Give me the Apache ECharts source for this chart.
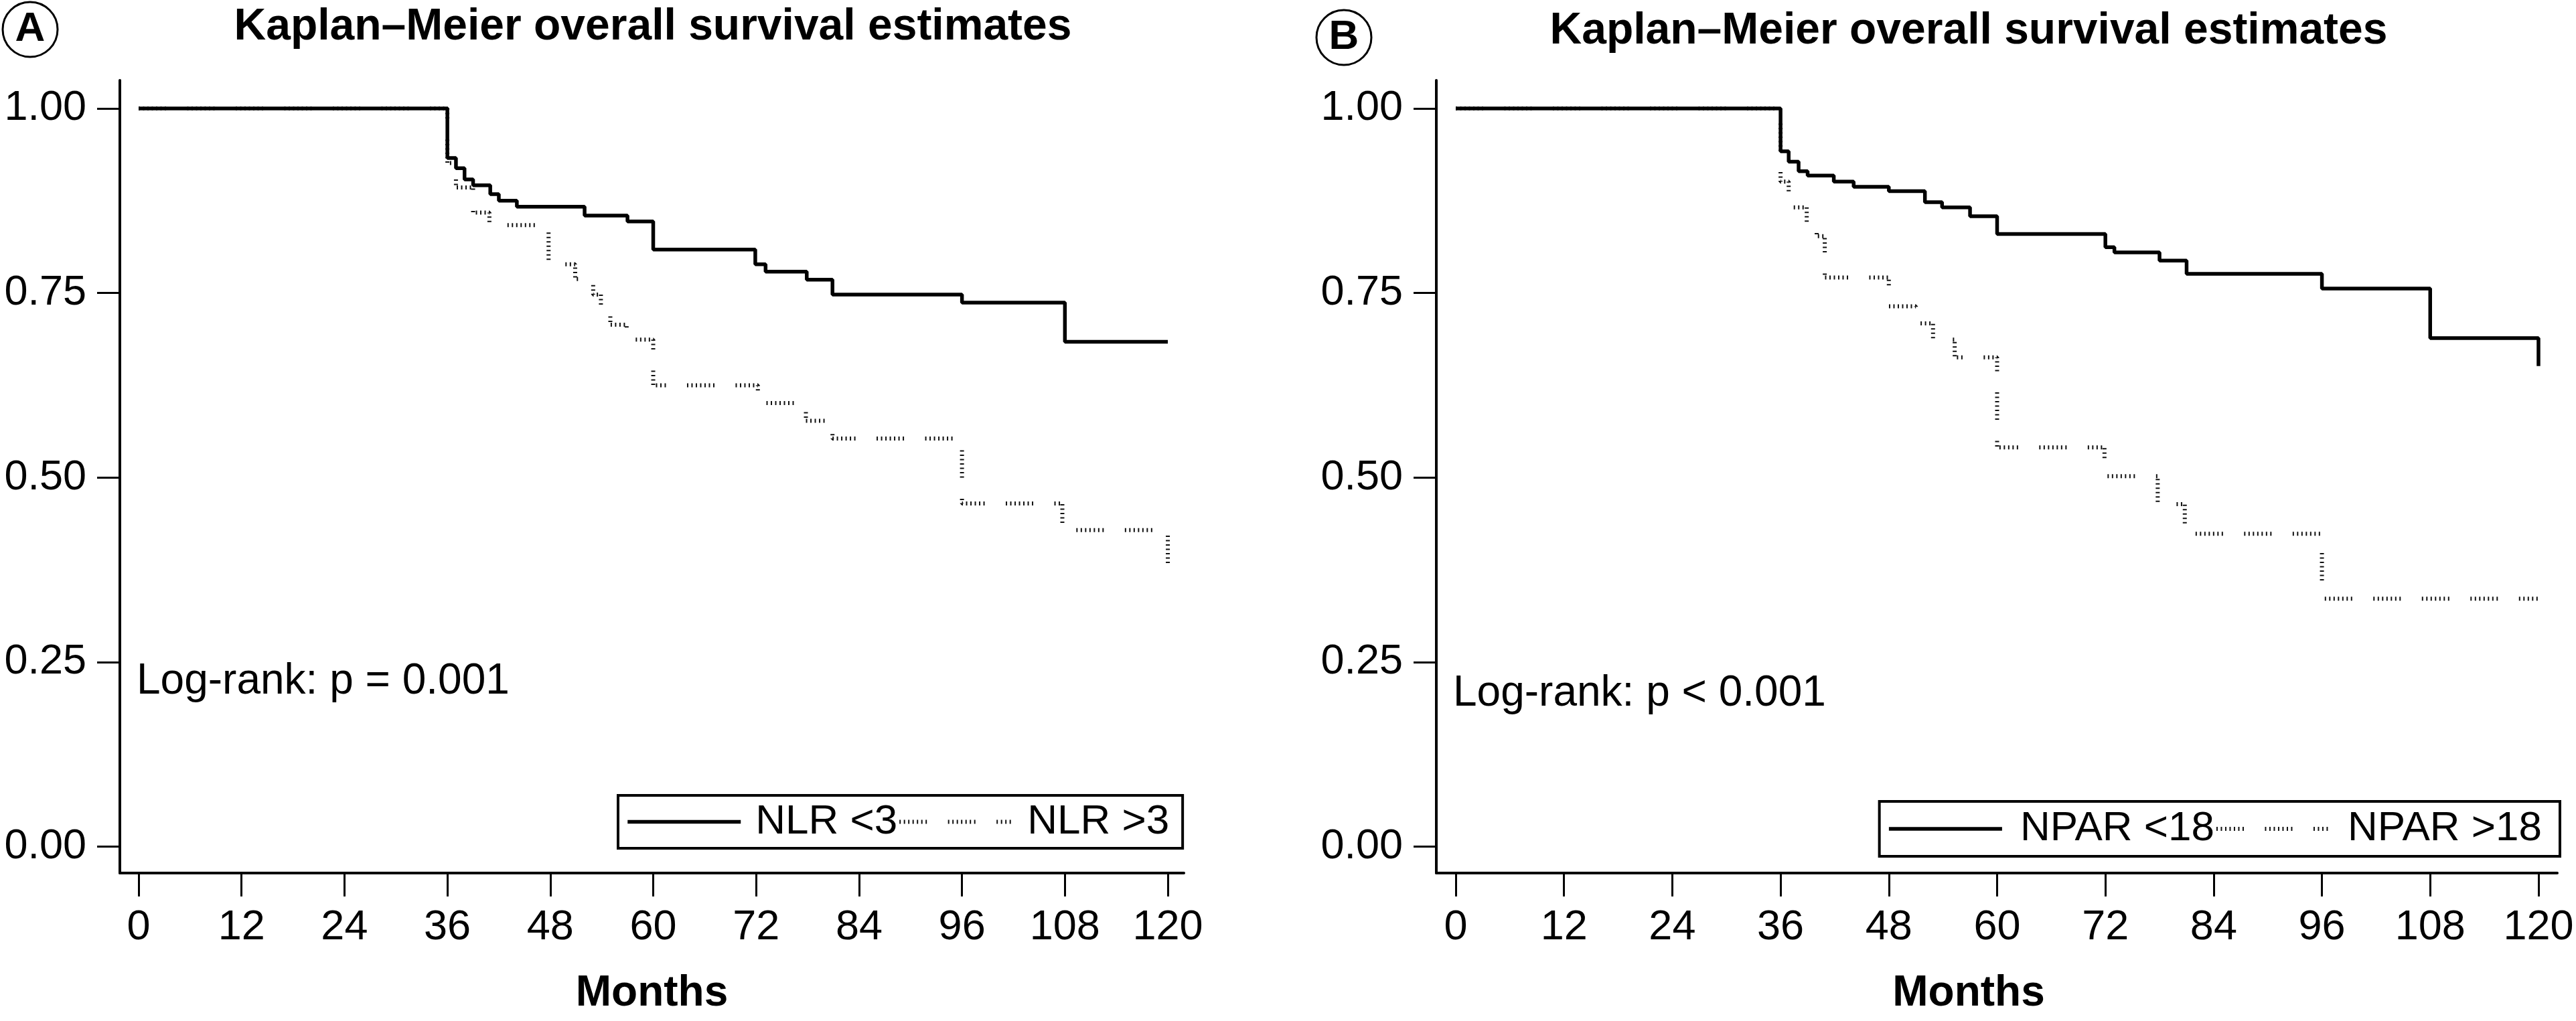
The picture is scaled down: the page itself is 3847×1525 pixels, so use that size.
<!DOCTYPE html>
<html>
<head>
<meta charset="utf-8">
<script src="https://cdn.jsdelivr.net/npm/echarts@6/dist/echarts.min.js"></script>
<style>
html,body{margin:0;padding:0;background:#fff;}
#c{width:3847px;height:1525px;}
</style>
</head>
<body>
<div id="c"></div>
<script>
// ---------- data ----------
const xTicks = [0, 12, 24, 36, 48, 60, 72, 84, 96, 108, 120];
const yTicks = [0, 0.25, 0.5, 0.75, 1];
const titleText = 'Kaplan–Meier overall survival estimates';
const xName = 'Months';
const panelLetters = ['A', 'B'];
const namesA = ['NLR <3', 'NLR >3'];
const namesB = ['NPAR <18', 'NPAR >18'];
const pTextA = 'Log-rank: p = 0.001';
const pTextB = 'Log-rank: p < 0.001';

// Panel A, NLR <3 (solid)
const monthsA_low = [0, 36, 37, 38, 39, 41, 42, 44.1, 52, 57, 60, 71.9, 73.1, 77.9, 80.9, 96, 108, 120];
const survA_low   = [1, 0.933, 0.919, 0.904, 0.896, 0.884, 0.875, 0.867, 0.855, 0.847, 0.809, 0.789, 0.779, 0.768, 0.748, 0.737, 0.684, 0.684];
// Panel A, NLR >3 (dotted)
const monthsA_high = [0, 36, 37, 39, 40.9, 47.8, 50.9, 53, 53.9, 55, 56.9, 57.8, 60, 72.2, 77.8, 80.9, 96, 107.7, 120];
const survA_high   = [1, 0.926, 0.893, 0.859, 0.842, 0.789, 0.769, 0.748, 0.729, 0.707, 0.699, 0.687, 0.625, 0.601, 0.577, 0.553, 0.465, 0.429, 0.38];
// Panel B, NPAR <18 (solid)
const monthsB_low = [0, 36, 36.9, 38, 39, 41.9, 44.1, 48, 52, 53.9, 57, 60, 72, 73, 78, 81, 96, 108, 120];
const survB_low   = [1, 0.942, 0.928, 0.915, 0.909, 0.901, 0.894, 0.888, 0.873, 0.866, 0.854, 0.830, 0.812, 0.805, 0.794, 0.776, 0.756, 0.689, 0.651];
// Panel B, NPAR >18 (dotted)
const monthsB_high = [0, 36, 36.9, 38.9, 40, 40.9, 48, 51, 52.9, 55.3, 60, 71.9, 77.8, 80.8, 96, 120];
const survB_high   = [1, 0.901, 0.866, 0.841, 0.827, 0.771, 0.732, 0.709, 0.687, 0.663, 0.541, 0.502, 0.464, 0.424, 0.336, 0.336];

// ---------- styling ----------
const FONT = "'Liberation Sans', Arial, Helvetica, sans-serif";
const DOT = [2, 4.5, 2, 4.5, 2, 4.5, 2, 4.5, 2, 4.5, 2, 4.5, 2, 31.5];
const pairs = (xs, ys) => xs.map((x, i) => [x, ys[i]]);

function xAxis(gi, min, max, namePad) {
  return {
    type: 'value', gridIndex: gi, min: min, max: max,
    name: xName, nameLocation: 'middle', nameGap: 148,
    nameTextStyle: {fontSize: 64, fontWeight: 'bold', color: '#000', fontFamily: FONT, padding: namePad},
    axisLine: {show: true, onZero: false, lineStyle: {color: '#000', width: 4}},
    axisTick: {show: true, length: 35, customValues: xTicks, lineStyle: {color: '#000', width: 3}},
    axisLabel: {show: true, customValues: xTicks, margin: 50, fontSize: 63, color: '#000', fontFamily: FONT},
    splitLine: {show: false}
  };
}
function yAxis(gi) {
  return {
    type: 'value', gridIndex: gi, min: -0.0356, max: 1.0381,
    axisLine: {show: true, onZero: false, lineStyle: {color: '#000', width: 4}},
    axisTick: {show: true, length: 34, customValues: yTicks, lineStyle: {color: '#000', width: 3}},
    axisLabel: {show: true, customValues: yTicks, margin: 50, fontSize: 63, color: '#000', fontFamily: FONT,
                formatter: v => v.toFixed(2)},
    splitLine: {show: false}
  };
}
function legend(names, pos, textPadLeft) {
  return Object.assign({
    data: names, orient: 'horizontal', selectedMode: false,
    itemWidth: 169, itemHeight: 20, itemGap: 0,
    borderColor: '#000', borderWidth: 4, backgroundColor: '#fff',
    itemStyle: {opacity: 0, borderWidth: 0},
    lineStyle: {width: 'inherit', type: 'inherit'},
    textStyle: {fontSize: 62, color: '#000', fontFamily: FONT, padding: [0, 0, 0, textPadLeft], lineHeight: 62}
  }, pos);
}
function solid(name, gi, xs, ys) {
  return {type: 'line', name: name, xAxisIndex: gi, yAxisIndex: gi, step: 'end', symbol: 'none',
    data: pairs(xs, ys), lineStyle: {color: '#000', width: 5.5}, itemStyle: {color: '#000'}, z: 3};
}
function dotted(name, gi, xs, ys) {
  return {type: 'line', name: name, xAxisIndex: gi, yAxisIndex: gi, step: 'end', symbol: 'none',
    data: pairs(xs, ys), lineStyle: {color: '#111', width: 6, type: DOT, cap: 'butt'}, itemStyle: {color: '#111'}, z: 2};
}
function circled(letter, cx, cy) {
  return [
    {type: 'circle', shape: {cx: cx, cy: cy, r: 41}, style: {fill: 'none', stroke: '#000', lineWidth: 3}},
    {type: 'text', x: cx, y: cy, style: {text: letter, align: 'center', verticalAlign: 'middle',
      textAlign: 'center', textVerticalAlign: 'middle',
      fontSize: 62, fontWeight: 'bold', fontFamily: FONT, fill: '#000'}}
  ];
}
function note(text, x, y) {
  return {type: 'text', x: x, y: y, style: {text: text, align: 'left', verticalAlign: 'middle',
    textAlign: 'left', textVerticalAlign: 'middle', fontSize: 64, fontFamily: FONT, fill: '#000'}};
}

const chart = echarts.init(document.getElementById('c'), null, {renderer: 'canvas'});
chart.setOption({
  animation: false,
  backgroundColor: '#fff',
  title: [
    {text: titleText, left: 975, top: 8, textAlign: 'center', padding: 0,
     textStyle: {fontSize: 66, fontWeight: 'bold', color: '#000', fontFamily: FONT}},
    {text: titleText, left: 2940, top: 14, textAlign: 'center', padding: 0,
     textStyle: {fontSize: 66, fontWeight: 'bold', color: '#000', fontFamily: FONT}}
  ],
  grid: [
    {left: 179, right: 3847 - 1768, top: 120, bottom: 1525 - 1304, containLabel: false},
    {left: 2145, right: 3847 - 3819, top: 120, bottom: 1525 - 1304, containLabel: false}
  ],
  xAxis: [xAxis(0, -2.186, 121.87, [0, 0, 0, 0]), xAxis(1, -2.152, 122.08, [0, 84, 0, 0])],
  yAxis: [yAxis(0), yAxis(1)],
  legend: [
    legend(namesA, {left: 923, top: 1188, padding: [8.5, 20, 8.5, 11.5]}, 17),
    legend(namesB, {right: 24, top: 1197, padding: [10, 27, 10, 11.5]}, 22)
  ],
  series: [
    dotted(namesA[1], 0, monthsA_high, survA_high),
    solid(namesA[0], 0, monthsA_low, survA_low),
    dotted(namesB[1], 1, monthsB_high, survB_high),
    solid(namesB[0], 1, monthsB_low, survB_low)
  ],
  graphic: [].concat(
    circled(panelLetters[0], 45, 44),
    circled(panelLetters[1], 2007, 56),
    [note(pTextA, 204, 1018), note(pTextB, 2170, 1036)]
  )
});
</script>
</body>
</html>
